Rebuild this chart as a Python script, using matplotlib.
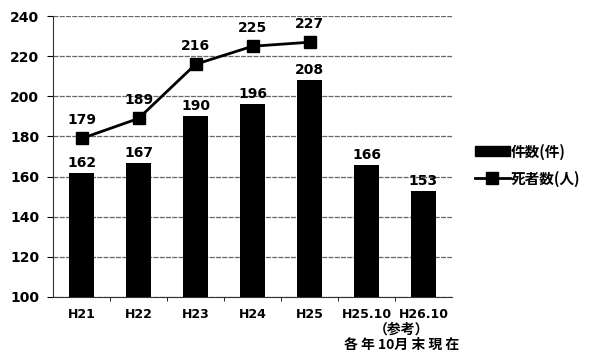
import matplotlib
matplotlib.use("Agg")
import matplotlib.pyplot as plt
from matplotlib.lines import Line2D
from matplotlib.patches import Patch

plt.rcParams['font.family'] = ['DejaVu Sans', 'Noto Sans CJK JP']

categories = ["H21", "H22", "H23", "H24", "H25", "H25.10", "H26.10"]
cases = [162, 167, 190, 196, 208, 166, 153]
deaths = [179, 189, 216, 225, 227]
yticks = [100, 120, 140, 160, 180, 200, 220, 240]
legend_labels = ["件数(件)", "死者数(人)"]
note_lines = ["（参考）", "各 年 10月 末 現 在"]

fig = plt.figure(figsize=(5.97, 3.51), dpi=100)
ax = fig.add_axes([0.089, 0.154, 0.668, 0.800])

x = list(range(len(categories)))
ax.bar(x, [c - 100 for c in cases], bottom=100, width=0.44, color='black', zorder=3)
xd = x[:len(deaths)]
ax.plot(xd, deaths, color='black', lw=2, marker='s', markersize=8, zorder=4)

for xi, v in zip(x, cases):
    ax.text(xi, v + 1.5, str(v), ha='center', va='bottom', fontsize=10, fontweight='bold')
for xi, v in zip(xd, deaths):
    ax.text(xi, v + 5.5, str(v), ha='center', va='bottom', fontsize=10, fontweight='bold')

ax.set_xlim(-0.5, 6.5)
ax.set_ylim(100, 240)
ax.set_yticks(yticks)
ax.set_yticklabels([str(t) for t in yticks], fontsize=10, fontweight='bold')
ax.set_xticks(x)
ax.set_xticklabels(categories, fontsize=9, fontweight='bold')
ax.set_xticks([i + 0.5 for i in x[:-1]], minor=True)
ax.tick_params(axis='x', which='major', length=0, pad=8)
ax.tick_params(axis='x', which='minor', length=3, direction='out')
ax.tick_params(axis='y', length=4, direction='out', pad=6)
ax.yaxis.grid(True, color='#666666', lw=0.9, ls=(0, (4, 1)), zorder=0)
for s in ['top', 'right']:
    ax.spines[s].set_visible(False)
ax.spines['left'].set_color('#333333')
ax.spines['bottom'].set_color('#333333')

fig.text(0.672, 0.060, note_lines[0], ha='center', va='center', fontsize=10,
         fontweight='bold', family=['Noto Sans CJK JP'])
fig.text(0.672, 0.018, note_lines[1], ha='center', va='center', fontsize=10,
         fontweight='bold', family=['Noto Sans CJK JP'])

handles = [Patch(facecolor='black', edgecolor='black'),
           Line2D([0], [0], color='black', lw=2, marker='s', markersize=8)]
leg = fig.legend(handles, legend_labels, loc='center left', bbox_to_anchor=(0.79, 0.53),
                 frameon=False, handlelength=2.4, handletextpad=0.1, labelspacing=0.75,
                 borderpad=0.2, borderaxespad=0.0,
                 prop={'family': 'Noto Sans CJK JP', 'weight': 'bold', 'size': 10.5})

fig.savefig("out.png", dpi=100)
